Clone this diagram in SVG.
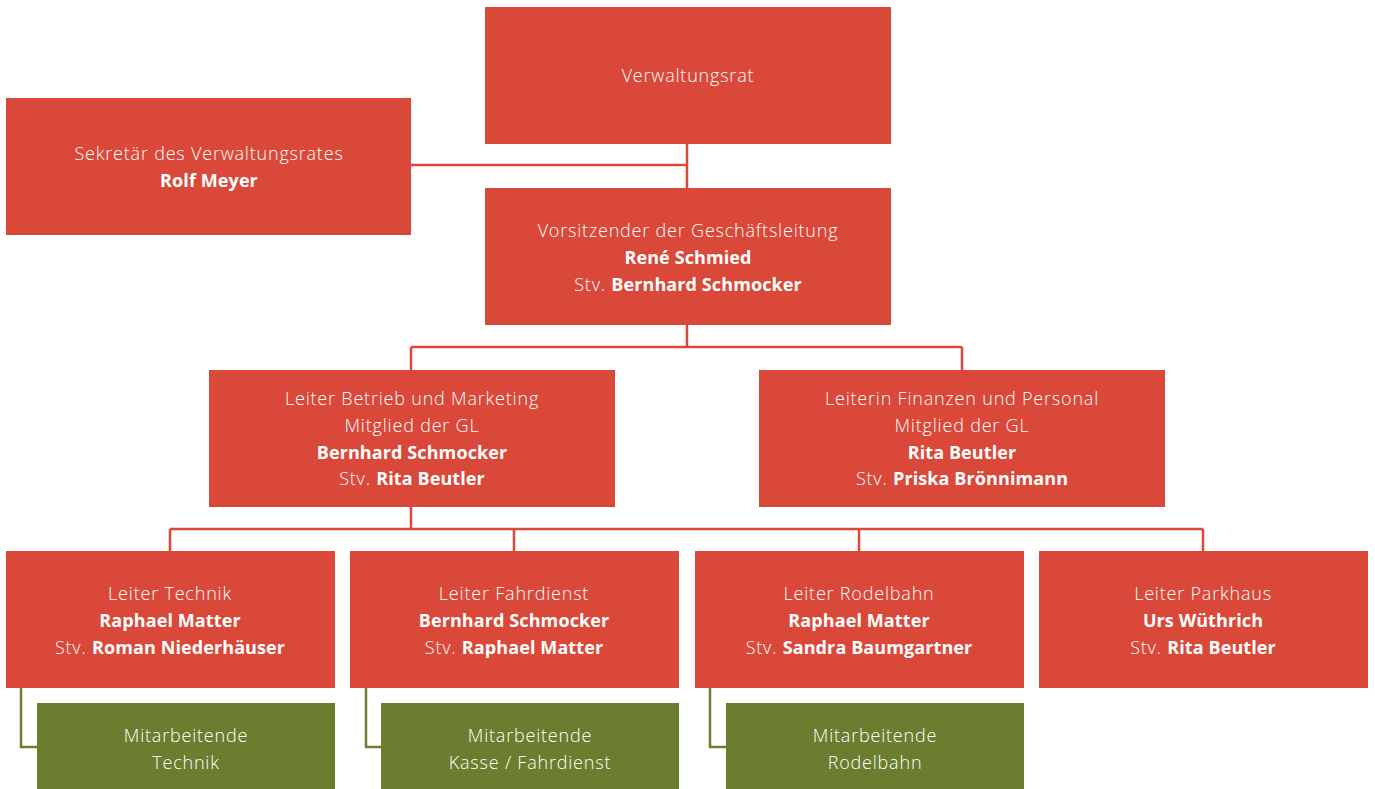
<svg xmlns="http://www.w3.org/2000/svg" width="1375" height="789" viewBox="0 0 1375 789">
  <style>
    .box { fill: #DA483A; }
    .green { fill: #6B7D2E; }
    .t { font-family: "Open Sans", "Liberation Sans", sans-serif; font-size: 18px; font-weight: 300; fill: #FFFFFF; text-anchor: middle; letter-spacing: 0.8px; }
    .b { font-weight: 700; letter-spacing: 0.1px; }
    .conn { fill: none; stroke: #DA483A; stroke-width: 2.5; }
    .gconn { fill: none; stroke: #6B7D2E; stroke-width: 2.5; }
  </style>
  <rect width="1375" height="789" fill="#FFFFFF"/>
  <g id="connectors">
    <path class="conn" d="M687 143 V188 M411 165 H687"/>
    <path class="conn" d="M687 324 V347 M411 347 H962 M411 347 V370 M962 347 V370"/>
    <path class="conn" d="M411 506 V529 M170 529 H1203 M170 529 V551 M514 529 V551 M859 529 V551 M1203 529 V551"/>
    <path class="gconn" d="M21 687 V747 H37"/>
    <path class="gconn" d="M366 687 V747 H381"/>
    <path class="gconn" d="M710 687 V747 H726"/>
  </g>
  <g id="verwaltungsrat">
    <rect class="box" x="485" y="7" width="406" height="137"/>
    <text class="t" x="688" y="82">Verwaltungsrat</text>
  </g>
  <g id="sekretaer">
    <rect class="box" x="6" y="98" width="405" height="137"/>
    <text class="t" x="209" y="160">Sekretär des Verwaltungsrates</text>
    <text class="t b" x="209" y="187">Rolf Meyer</text>
  </g>
  <g id="vorsitzender">
    <rect class="box" x="485" y="188" width="406" height="137"/>
    <text class="t" x="688" y="237">Vorsitzender der Geschäftsleitung</text>
    <text class="t b" x="688" y="264">René Schmied</text>
    <text class="t" x="688" y="291">Stv. <tspan class="b">Bernhard Schmocker</tspan></text>
  </g>
  <g id="betrieb">
    <rect class="box" x="209" y="370" width="406" height="137"/>
    <text class="t" x="412" y="405">Leiter Betrieb und Marketing</text>
    <text class="t" x="412" y="432">Mitglied der GL</text>
    <text class="t b" x="412" y="459">Bernhard Schmocker</text>
    <text class="t" x="412" y="485">Stv. <tspan class="b">Rita Beutler</tspan></text>
  </g>
  <g id="finanzen">
    <rect class="box" x="759" y="370" width="406" height="137"/>
    <text class="t" x="962" y="405">Leiterin Finanzen und Personal</text>
    <text class="t" x="962" y="432">Mitglied der GL</text>
    <text class="t b" x="962" y="459">Rita Beutler</text>
    <text class="t" x="962" y="485">Stv. <tspan class="b">Priska Brönnimann</tspan></text>
  </g>
  <g id="technik">
    <rect class="box" x="6" y="551" width="329" height="137"/>
    <text class="t" x="170" y="600">Leiter Technik</text>
    <text class="t b" x="170" y="627">Raphael Matter</text>
    <text class="t" x="170" y="654">Stv. <tspan class="b">Roman Niederhäuser</tspan></text>
  </g>
  <g id="fahrdienst">
    <rect class="box" x="350" y="551" width="329" height="137"/>
    <text class="t" x="514" y="600">Leiter Fahrdienst</text>
    <text class="t b" x="514" y="627">Bernhard Schmocker</text>
    <text class="t" x="514" y="654">Stv. <tspan class="b">Raphael Matter</tspan></text>
  </g>
  <g id="rodelbahn">
    <rect class="box" x="695" y="551" width="329" height="137"/>
    <text class="t" x="859" y="600">Leiter Rodelbahn</text>
    <text class="t b" x="859" y="627">Raphael Matter</text>
    <text class="t" x="859" y="654">Stv. <tspan class="b">Sandra Baumgartner</tspan></text>
  </g>
  <g id="parkhaus">
    <rect class="box" x="1039" y="551" width="329" height="137"/>
    <text class="t" x="1203" y="600">Leiter Parkhaus</text>
    <text class="t b" x="1203" y="627">Urs Wüthrich</text>
    <text class="t" x="1203" y="654">Stv. <tspan class="b">Rita Beutler</tspan></text>
  </g>
  <g id="ma-technik">
    <rect class="green" x="37" y="703" width="298" height="86"/>
    <text class="t" x="186" y="742">Mitarbeitende</text>
    <text class="t" x="186" y="769">Technik</text>
  </g>
  <g id="ma-fahrdienst">
    <rect class="green" x="381" y="703" width="298" height="86"/>
    <text class="t" x="530" y="742">Mitarbeitende</text>
    <text class="t" x="530" y="769">Kasse / Fahrdienst</text>
  </g>
  <g id="ma-rodelbahn">
    <rect class="green" x="726" y="703" width="298" height="86"/>
    <text class="t" x="875" y="742">Mitarbeitende</text>
    <text class="t" x="875" y="769">Rodelbahn</text>
  </g>
</svg>
